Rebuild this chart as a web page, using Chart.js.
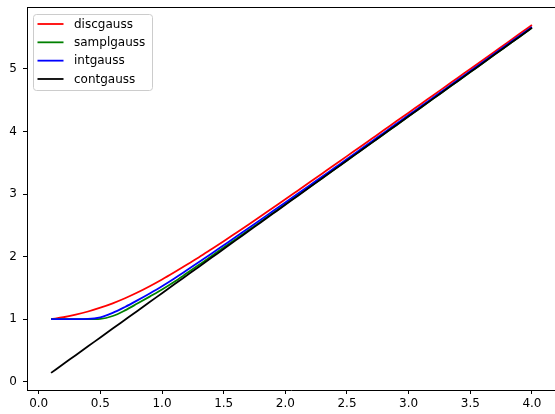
<!DOCTYPE html>
<html>
<head>
<meta charset="utf-8">
<script src="https://cdn.jsdelivr.net/npm/chart.js@4/dist/chart.umd.min.js"></script>
<style>
html,body{margin:0;padding:0;background:#fff;overflow:hidden;}
#wrap{position:relative;width:555px;height:414px;}
</style>
</head>
<body>
<div id="wrap"><canvas id="c" width="555" height="414"></canvas></div>
<script>
const sigma = [0.1,0.2,0.3,0.4,0.5,0.6,0.7,0.8,0.9,1.0,1.1,1.2,1.3,1.4,1.5,1.6,1.7,1.8,1.9,2.0,
  2.1,2.2,2.3,2.4,2.5,2.6,2.7,2.8,2.9,3.0,3.1,3.2,3.3,3.4,3.5,3.6,3.7,3.8,3.9,4.0];
const discgauss = [1.000,1.030,1.072,1.122,1.183,1.253,1.334,1.425,1.526,1.634,1.749,1.868,1.990,2.117,2.245,2.377,2.510,2.644,2.780,2.915,
  3.053,3.191,3.329,3.467,3.606,3.744,3.883,4.022,4.162,4.301,4.441,4.580,4.720,4.860,5.000,5.140,5.280,5.420,5.561,5.701];
const samplgauss = [1.000,1.000,1.000,1.000,1.005,1.050,1.140,1.249,1.360,1.473,1.597,1.732,1.868,2.005,2.145,2.283,2.421,2.559,2.698,2.837,
  2.977,3.116,3.256,3.396,3.537,3.678,3.819,3.960,4.101,4.243,4.384,4.526,4.667,4.808,4.950,5.091,5.233,5.374,5.515,5.657];
const intgauss = [1.000,1.000,1.000,1.003,1.030,1.100,1.195,1.300,1.410,1.525,1.649,1.780,1.913,2.047,2.182,2.317,2.454,2.590,2.728,2.865,
  3.003,3.142,3.280,3.420,3.559,3.700,3.841,3.981,4.122,4.263,4.403,4.544,4.685,4.826,4.967,5.108,5.249,5.390,5.531,5.672];
const contgauss = [0.141,0.283,0.424,0.566,0.707,0.849,0.990,1.131,1.273,1.414,1.556,1.697,1.838,1.980,2.121,2.263,2.404,2.546,2.687,2.828,
  2.970,3.111,3.253,3.394,3.536,3.677,3.818,3.960,4.101,4.243,4.384,4.525,4.667,4.808,4.950,5.091,5.233,5.374,5.515,5.657];
const seriesNames = ['discgauss','samplgauss','intgauss','contgauss'];
const seriesColors = ['#ff0000','#008000','#0000ff','#000000'];
const xTicks = [0.0,0.5,1.0,1.5,2.0,2.5,3.0,3.5,4.0];
const yTicks = [0,1,2,3,4,5];

const FONT = "'DejaVu Sans', sans-serif";
const allSeries = [discgauss, samplgauss, intgauss, contgauss];

const datasets = allSeries.map((vals, i) => ({
  label: seriesNames[i],
  data: sigma.map((s, j) => ({x: s, y: vals[j]})),
  borderColor: seriesColors[i],
  backgroundColor: seriesColors[i],
  borderWidth: 1.8,
  pointRadius: 0,
  fill: false,
  cubicInterpolationMode: 'monotone',
  order: allSeries.length - i
}));

const framePlugin = {
  id: 'frame',
  afterDatasetsDraw(chart) {
    const ctx = chart.ctx, a = chart.chartArea;
    ctx.save();
    ctx.strokeStyle = '#000';
    ctx.lineWidth = 1;
    ctx.beginPath();
    ctx.moveTo(a.left, a.top + 0.5);
    ctx.lineTo(a.right, a.top + 0.5);
    ctx.stroke();
    ctx.restore();
  }
};

const legendPlugin = {
  id: 'mplLegend',
  afterDraw(chart) {
    const ctx = chart.ctx;
    const x0 = 33.5, y0 = 14.5, w = 119, h = 76, r = 3;
    ctx.save();
    ctx.beginPath();
    ctx.moveTo(x0 + r, y0);
    ctx.lineTo(x0 + w - r, y0);
    ctx.arcTo(x0 + w, y0, x0 + w, y0 + r, r);
    ctx.lineTo(x0 + w, y0 + h - r);
    ctx.arcTo(x0 + w, y0 + h, x0 + w - r, y0 + h, r);
    ctx.lineTo(x0 + r, y0 + h);
    ctx.arcTo(x0, y0 + h, x0, y0 + h - r, r);
    ctx.lineTo(x0, y0 + r);
    ctx.arcTo(x0, y0, x0 + r, y0, r);
    ctx.closePath();
    ctx.fillStyle = 'rgba(255,255,255,0.8)';
    ctx.fill();
    ctx.strokeStyle = '#cccccc';
    ctx.lineWidth = 1;
    ctx.stroke();
    ctx.font = '12px ' + FONT;
    ctx.textBaseline = 'middle';
    ctx.textAlign = 'left';
    chart.data.datasets.forEach((ds, i) => {
      const yy = 24 + i * 18.33;
      ctx.strokeStyle = ds.borderColor;
      ctx.lineWidth = 1.8;
      ctx.beginPath();
      ctx.moveTo(37.5, yy);
      ctx.lineTo(63.5, yy);
      ctx.stroke();
      ctx.fillStyle = '#000';
      ctx.fillText(ds.label, 74, yy + 0.5);
    });
    ctx.restore();
  }
};

new Chart(document.getElementById('c'), {
  type: 'line',
  data: { datasets },
  plugins: [framePlugin, legendPlugin],
  options: {
    responsive: false,
    animation: false,
    devicePixelRatio: 1,
    layout: { padding: { top: 7, right: 0, left: 0, bottom: 0 } },
    plugins: { legend: { display: false }, tooltip: { enabled: false } },
    scales: {
      x: {
        type: 'linear',
        min: -0.095,
        max: 4.187,
        afterBuildTicks(scale) { scale.ticks = xTicks.map(v => ({value: v})); },
        afterFit(scale) { scale.height = 24; scale.paddingLeft = 0; scale.paddingRight = 0; },
        grid: { display: true, drawOnChartArea: false, drawTicks: true, tickLength: 4, tickColor: '#000', color: '#000' },
        border: { display: true, color: '#000', width: 1 },
        ticks: {
          color: '#000', padding: 3, maxRotation: 0, autoSkip: false,
          font: { family: FONT, size: 12 },
          callback: v => Number(v).toFixed(1)
        }
      },
      y: {
        type: 'linear',
        min: -0.133,
        max: 5.99,
        afterBuildTicks(scale) { scale.ticks = yTicks.map(v => ({value: v})); },
        afterFit(scale) { scale.width = 27; scale.paddingTop = 0; scale.paddingBottom = 0; },
        grid: { display: true, drawOnChartArea: false, drawTicks: true, tickLength: 4, tickColor: '#000', color: '#000' },
        border: { display: true, color: '#000', width: 1 },
        ticks: {
          color: '#000', padding: 6, autoSkip: false,
          font: { family: FONT, size: 12 },
          callback: v => String(Math.round(v))
        }
      }
    }
  }
});
</script>
</body>
</html>
